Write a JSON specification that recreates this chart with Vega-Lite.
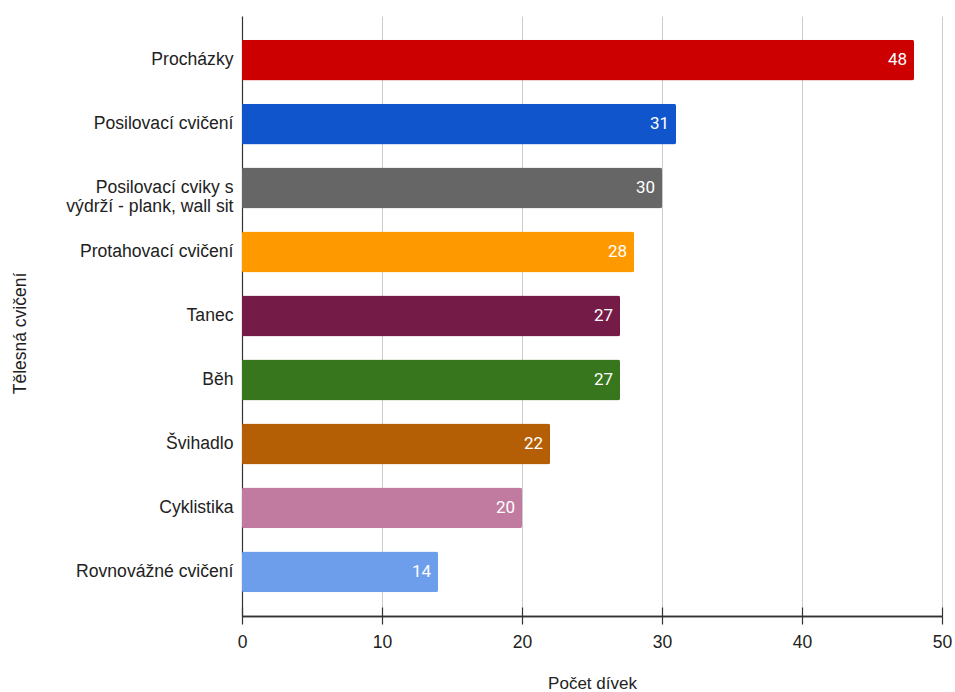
{
  "$schema": "https://vega.github.io/schema/vega-lite/v6.json",
  "autosize": "none",
  "width": 700,
  "height": 600,
  "padding": {"left": 242, "top": 16, "right": 13, "bottom": 76},
  "background": "white",
  "config": {"view": {"stroke": null}},
  "data": {"values": [
    {"cviceni": "Procházky", "pocet": 48},
    {"cviceni": "Posilovací cvičení", "pocet": 31},
    {"cviceni": "Posilovací cviky s\nvýdrží - plank, wall sit", "pocet": 30},
    {"cviceni": "Protahovací cvičení", "pocet": 28},
    {"cviceni": "Tanec", "pocet": 27},
    {"cviceni": "Běh", "pocet": 27},
    {"cviceni": "Švihadlo", "pocet": 22},
    {"cviceni": "Cyklistika", "pocet": 20},
    {"cviceni": "Rovnovážné cvičení", "pocet": 14}
  ]},
  "encoding": {
    "y": {
      "field": "cviceni", "type": "nominal", "sort": null,
      "scale": {"paddingInner": 0.36, "paddingOuter": 0.37},
      "axis": {
        "title": "Tělesná cvičení",
        "titleFont": "Liberation Sans", "titleFontSize": 17.5, "titleFontWeight": "normal", "titleColor": "#222222",
        "titleY": 317, "titleX": -222, "titleAngle": -90, "titleBaseline": "middle",
        "labelFont": "Liberation Sans", "labelFontSize": 17.6, "labelColor": "#222222",
        "labelExpr": "split(datum.label, '\\n')", "labelLineHeight": 19,
        "labelPadding": 9, "ticks": false,
        "domainColor": "#333333", "domainWidth": 1.2
      }
    },
    "x": {
      "field": "pocet", "type": "quantitative",
      "scale": {"domain": [0, 50], "nice": false},
      "axis": {
        "title": "Počet dívek", "values": [0, 10, 20, 30, 40, 50],
        "titleFont": "Liberation Sans", "titleFontSize": 17, "titleFontWeight": "normal", "titleColor": "#222222",
        "titleY": 59, "titleBaseline": "top",
        "labelFont": "Liberation Sans", "labelFontSize": 17.5, "labelColor": "#222222", "labelFlush": false,
        "labelPadding": 9, "tickSize": 8, "tickColor": "#333333", "tickWidth": 1.2,
        "domain": true, "domainColor": "#333333", "domainWidth": 1.6,
        "grid": true, "gridColor": "#cccccc", "gridWidth": 1
      }
    }
  },
  "layer": [
    {
      "mark": {"type": "bar", "cornerRadius": 2},
      "encoding": {
        "color": {
          "field": "cviceni", "type": "nominal", "legend": null,
          "scale": {
            "domain": ["Procházky", "Posilovací cvičení", "Posilovací cviky s\nvýdrží - plank, wall sit", "Protahovací cvičení", "Tanec", "Běh", "Švihadlo", "Cyklistika", "Rovnovážné cvičení"],
            "range": ["#cc0000", "#1155cc", "#666666", "#ff9900", "#741b47", "#38761d", "#b45f06", "#c27ba0", "#6d9eeb"]
          }
        }
      }
    },
    {
      "mark": {"type": "text", "align": "right", "baseline": "middle", "dx": -7, "color": "white", "font": "Roboto", "fontSize": 17},
      "encoding": {
        "text": {"field": "pocet", "type": "quantitative"},
        "x": {
          "field": "pocet", "type": "quantitative",
          "axis": {"orient": "bottom", "values": [0, 10, 20, 30, 40, 50], "tickSize": -9, "tickColor": "#333333", "tickWidth": 1.2, "labels": false, "domain": true, "domainColor": "#333333", "domainWidth": 1.6, "grid": false, "title": null}
        }
      }
    }
  ],
  "resolve": {"axis": {"x": "independent"}}
}
